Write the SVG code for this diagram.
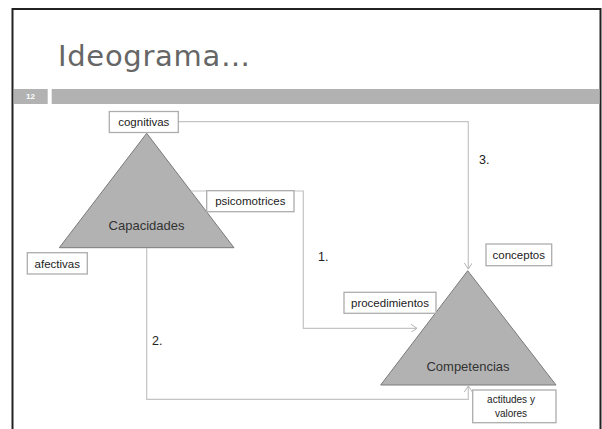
<svg xmlns="http://www.w3.org/2000/svg" width="602" height="429" viewBox="0 0 602 429">
  <defs>
    <style>
      .frame { fill: none; stroke: #222; stroke-width: 2; }
      .band { fill: #b2b2b2; }
      .title { font-family: "DejaVu Sans", "Liberation Sans", sans-serif; font-size: 29px; fill: #666; }
      .pagenum { font-family: "Liberation Sans", Arial, sans-serif; font-size: 8px; font-weight: bold; fill: #ffffff; text-anchor: middle; }
      .tri { fill: #b2b2b2; stroke: #7a7a7a; stroke-width: 1; }
      .tri-label { font-family: "Liberation Sans", Arial, sans-serif; font-size: 13px; fill: #333; text-anchor: middle; }
      .box { fill: #ffffff; stroke: #adadad; stroke-width: 1.3; }
      .box-label { font-family: "Liberation Sans", Arial, sans-serif; font-size: 11.5px; fill: #222; text-anchor: middle; }
      .box-small { font-family: "Liberation Sans", Arial, sans-serif; font-size: 10px; fill: #222; text-anchor: middle; }
      .step { font-family: "Liberation Sans", Arial, sans-serif; font-size: 12.5px; fill: #222; }
      .link { fill: none; stroke: #c4c4c4; stroke-width: 1.2; marker-end: url(#chevron); }
    </style>
    <marker id="chevron" viewBox="0 0 6 8" refX="6" refY="4" markerWidth="6" markerHeight="8" markerUnits="userSpaceOnUse" orient="auto">
      <path d="M0,0 L6,4 L0,8" fill="none" stroke="#b4b4b4" stroke-width="1"/>
    </marker>
  </defs>

  <!-- slide frame -->
  <path class="frame" d="M12.5,429 V9 H600.5 V429"/>

  <!-- title -->
  <text class="title" x="58" y="66" textLength="192" lengthAdjust="spacing">Ideograma…</text>

  <!-- header band with page number -->
  <rect class="band" x="14" y="89" width="33.7" height="15"/>
  <rect class="band" x="51.7" y="89" width="547.8" height="15"/>
  <text class="pagenum" x="30.5" y="99">12</text>

  <!-- triangles -->
  <g id="capacidades">
    <polygon class="tri" points="146.7,133.3 59.3,247.7 234,247.7"/>
    <text class="tri-label" x="146.5" y="230">Capacidades</text>
  </g>
  <g id="competencias">
    <polygon class="tri" points="467.7,270.7 380.7,385 556,385"/>
    <text class="tri-label" x="468" y="371">Competencias</text>
  </g>

  <!-- connectors -->
  <g id="connectors">
    <path class="link" d="M191,191 H303.3 V328.3 H417"/>
    <path class="link" d="M146.7,248 V399.3 H468.3 V386"/>
    <path class="link" d="M178.3,121.7 H468.3 V269"/>
  </g>

  <!-- step numbers -->
  <g id="steps">
    <text class="step" x="318" y="261">1.</text>
    <text class="step" x="152" y="345">2.</text>
    <text class="step" x="479" y="163.5">3.</text>
  </g>

  <!-- label boxes -->
  <g id="cognitivas">
    <rect class="box" x="109.3" y="111.5" width="69" height="21"/>
    <text class="box-label" x="143.8" y="126">cognitivas</text>
  </g>
  <g id="psicomotrices">
    <rect class="box" x="206.7" y="190.7" width="87.3" height="21"/>
    <text class="box-label" x="250.3" y="205">psicomotrices</text>
  </g>
  <g id="afectivas">
    <rect class="box" x="27.3" y="252.7" width="60" height="21.3"/>
    <text class="box-label" x="57.3" y="267.5">afectivas</text>
  </g>
  <g id="conceptos">
    <rect class="box" x="486" y="244" width="65.7" height="21.7"/>
    <text class="box-label" x="518.8" y="259">conceptos</text>
  </g>
  <g id="procedimientos">
    <rect class="box" x="344" y="292.3" width="92" height="21"/>
    <text class="box-label" x="390" y="307">procedimientos</text>
  </g>
  <g id="actitudes">
    <rect class="box" x="472.7" y="390" width="83.3" height="32.7"/>
    <text class="box-small" x="511" y="402.5">actitudes y</text>
    <text class="box-small" x="511" y="417">valores</text>
  </g>
</svg>
